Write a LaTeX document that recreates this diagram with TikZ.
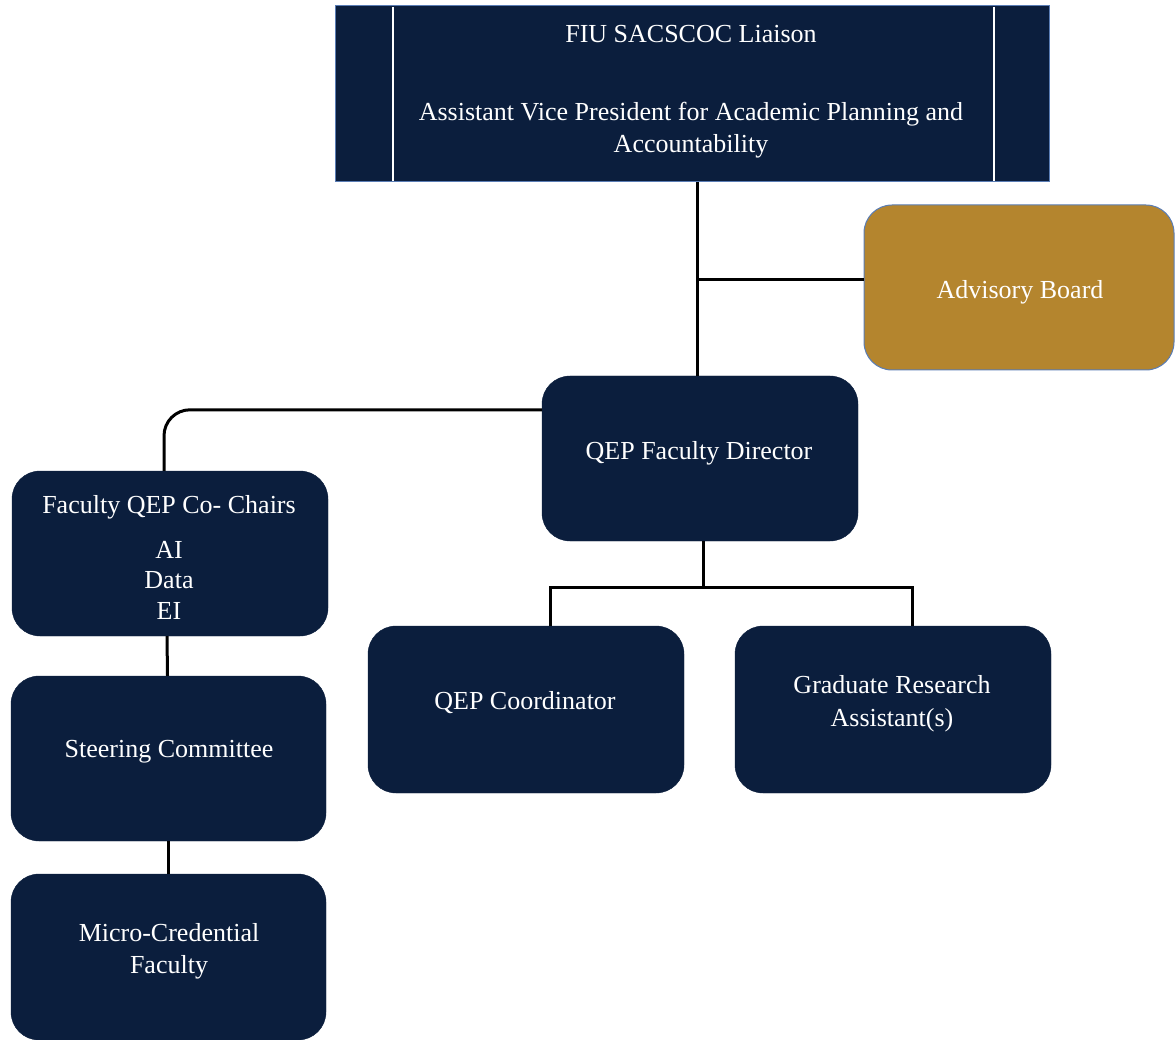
\documentclass[tikz,border=0pt]{standalone}
\usepackage{fontspec}
\setmainfont{Liberation Serif}
\definecolor{navy}{HTML}{0B1E3D}
\definecolor{gold}{HTML}{B4852E}
\definecolor{edgeblue}{HTML}{5A7DB5}
\begin{document}
\begin{tikzpicture}[x=1pt,y=-1pt,
  box/.style={fill=navy,draw=navy,rounded corners=28pt,inner sep=0pt},
  txt/.style={text=white,align=center,font=\fontsize{26}{31.5}\selectfont,inner sep=0pt},
  conn/.style={draw=black,line width=3pt}]
\useasboundingbox (0,0) rectangle (1175,1040);
% top box
\node[fill=navy,draw=edgeblue,line width=1pt,minimum width=714pt,minimum height=176pt,inner sep=0pt] (top) at (692,94) {};
\draw[white,line width=1.4pt] (393,7) -- (393,181) (994,7) -- (994,181);
\node[txt] (topA) at (691,34) {FIU SACSCOC Liaison};
\node[txt] (topB) at (691,130) {Assistant Vice President for Academic Planning and\\Accountability};
% advisory
\node[box,fill=gold,draw=edgeblue,line width=1pt,minimum width=310pt,minimum height=165pt] (adv) at (1019,287.5) {};
\node[txt] (advT) at (1020,292) {Advisory Board};
% director
\node[box,minimum width=316pt,minimum height=165pt] (dir) at (700,458.5) {};
\node[txt] (dirT) at (699,453) {QEP Faculty Director};
% co-chairs
\node[box,minimum width=316pt,minimum height=165pt] (co) at (170,553.5) {};
\node[txt] (coT) at (169,507) {Faculty QEP Co- Chairs};
\node[txt,font=\fontsize{26}{30.5}\selectfont] (coL) at (169,580) {AI\\Data\\EI};
% steering
\node[box,minimum width=315pt,minimum height=165pt] (st) at (168.5,758.5) {};
\node[txt] (stT) at (169,752) {Steering Committee};
% micro
\node[box,minimum width=315pt,minimum height=166pt] (mc) at (168.5,957) {};
\node[txt,font=\fontsize{26}{32}\selectfont] (mcT) at (169,951) {Micro-Credential\\Faculty};
% coordinator
\node[box,minimum width=316pt,minimum height=167pt] (qc) at (526,709.5) {};
\node[txt] (qcT) at (525,703) {QEP Coordinator};
% graduate
\node[box,minimum width=316pt,minimum height=167pt] (gr) at (893,709.5) {};
\node[txt,font=\fontsize{26}{33}\selectfont] (grT) at (892,704) {Graduate Research\\Assistant(s)};
% connectors
\coordinate (j1) at (697,280);
\draw[conn] (697,182) -- (697,376);
\draw[conn] (j1) -- (adv.west |- j1);
\draw[conn,rounded corners=26pt] ([yshift=-34pt]dir.north west) -| ([xshift=-6pt]co.north);
\draw[conn] ([xshift=-3pt]co.south) -- ([xshift=-1pt]st.north);
\draw[conn] (st.south) -- (mc.north);
\coordinate (j2) at (703,587);
\draw[conn] ([xshift=3pt]dir.south) -- (j2);
\draw[conn] ([xshift=24pt]qc.north) |- (j2) -| ([xshift=19pt]gr.north);
\end{tikzpicture}
\end{document}
